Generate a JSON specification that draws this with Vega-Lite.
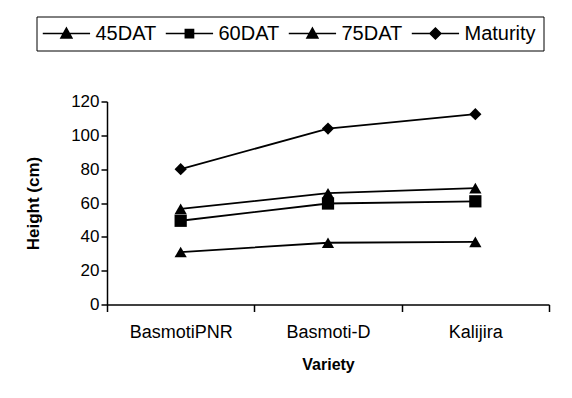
{
  "$schema": "https://vega.github.io/schema/vega-lite/v6.json",
  "autosize": {"type": "none"},
  "width": 442,
  "height": 203,
  "padding": {"left": 107, "top": 101.5, "right": 23, "bottom": 93.5},
  "background": "white",
  "config": {
    "font": "Liberation Sans",
    "view": {"stroke": null},
    "axis": {"domainColor": "black", "tickColor": "black", "labelColor": "black", "titleColor": "black", "grid": false, "domainWidth": 1.5, "tickWidth": 1.5}
  },
  "data": {
    "values": [
      {"variety": "BasmotiPNR", "series": "45DAT", "height": 31},
      {"variety": "Basmoti-D", "series": "45DAT", "height": 36.5},
      {"variety": "Kalijira", "series": "45DAT", "height": 37},
      {"variety": "BasmotiPNR", "series": "60DAT", "height": 49.5},
      {"variety": "Basmoti-D", "series": "60DAT", "height": 59.7},
      {"variety": "Kalijira", "series": "60DAT", "height": 61},
      {"variety": "BasmotiPNR", "series": "75DAT", "height": 56.5},
      {"variety": "Basmoti-D", "series": "75DAT", "height": 65.8},
      {"variety": "Kalijira", "series": "75DAT", "height": 68.8},
      {"variety": "BasmotiPNR", "series": "Maturity", "height": 80},
      {"variety": "Basmoti-D", "series": "Maturity", "height": 104},
      {"variety": "Kalijira", "series": "Maturity", "height": 112.5}
    ]
  },
  "encoding": {
    "x": {
      "field": "variety", "type": "nominal", "sort": null,
      "scale": {"paddingInner": 0, "paddingOuter": 0},
      "axis": {"title": "Variety", "labelAngle": 0, "labelFontSize": 18, "labelPadding": 12, "tickSize": 7, "tickBand": "extent", "titleFontSize": 16, "titleFontWeight": "bold", "titlePadding": 15}
    },
    "y": {
      "field": "height", "type": "quantitative",
      "scale": {"domain": [0, 120], "nice": false},
      "axis": {"title": "Height (cm)", "values": [0, 20, 40, 60, 80, 100, 120], "labelFontSize": 17, "labelPadding": 2, "tickSize": 6, "titleFontSize": 17, "titleFontWeight": "bold", "titlePadding": 28}
    }
  },
  "layer": [
    {
      "mark": {"type": "line", "color": "black", "strokeWidth": 1.8},
      "encoding": {"detail": {"field": "series"}}
    },
    {
      "mark": {"type": "point", "filled": true, "opacity": 1},
      "encoding": {
        "shape": {
          "field": "series", "type": "nominal",
          "scale": {"domain": ["Maturity", "45DAT", "60DAT", "75DAT"], "range": ["diamond", "triangle-up", "square", "triangle-up"]},
          "legend": null
        },
        "color": {
          "field": "series", "type": "nominal",
          "scale": {"domain": ["45DAT", "60DAT", "75DAT", "Maturity"], "range": ["black", "black", "black", "black"]},
          "legend": {
            "title": null,
            "orient": "none",
            "legendX": -70.5,
            "legendY": -85,
            "direction": "horizontal",
            "columns": 4,
            "strokeColor": "black",
            "padding": 7,
            "labelFontSize": 20,
            "labelColor": "black",
            "labelOffset": 32,
            "symbolSize": 121,
            "symbolStrokeWidth": 1.5,
            "symbolStrokeColor": "black",
            "symbolOpacity": 1,
            "columnPadding": 6,
            "symbolType": {"expr": "datum.value === 'Maturity' ? 'M-1.95,0H6.65M2.35,-1L3.35,0L2.35,1L1.35,0Z' : datum.value === '60DAT' ? 'M-1.95,0H6.65M1.6,-0.75H3.1V0.75H1.6Z' : 'M-1.95,0H6.65M2.35,-1L3.35,0.8L1.35,0.8Z'"}
          }
        },
        "size": {"value": 150}
      }
    }
  ]
}
